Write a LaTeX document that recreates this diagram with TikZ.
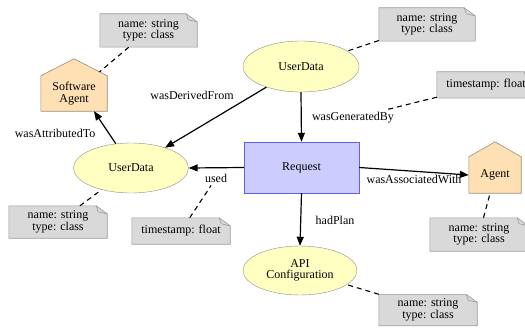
\documentclass[tikz,border=0pt]{standalone}
\usepackage{fontspec}
\setmainfont{Liberation Serif}
\usetikzlibrary{shapes.geometric,arrows.meta}
\pgfdeclarelayer{background}
\pgfsetlayers{background,main}
\definecolor{entfill}{HTML}{FFFFC2}
\definecolor{entline}{HTML}{8C8C8C}
\definecolor{actfill}{HTML}{CCCCFF}
\definecolor{actline}{HTML}{6060F0}
\definecolor{agtfill}{HTML}{FEE0B4}
\definecolor{agtline}{HTML}{9C8C78}
\definecolor{notefill}{HTML}{D9D9D9}
\definecolor{noteline}{HTML}{9A9A9A}
\tikzset{
  entity/.style={ellipse, draw=entline, fill=entfill, inner sep=0pt, align=center},
  activity/.style={rectangle, draw=actline, fill=actfill, inner sep=0pt},
  agentbody/.style={rectangle, inner sep=0pt, align=center},
  attrnote/.style={rectangle, inner sep=0pt, minimum width=98pt, align=center},
  lbl/.style={inner sep=3pt},
  rel/.style={line width=1.2pt, -{Triangle[length=9pt,width=7pt]}},
  attr/.style={line width=1.1pt, dash pattern=on 5pt off 4pt},
}
% house outline behind an agent node, roof height as second argument
\newcommand{\agenthouse}[2]{%
  \begin{pgfonlayer}{background}
    \draw[agtline, fill=agtfill, line width=0.6pt] (#1.south west) -- (#1.south east) -- (#1.north east)
      -- ([yshift=#2]#1.north) -- (#1.north west) -- cycle;
  \end{pgfonlayer}}
% note outline with a folded corner
\newcommand{\notefold}[1]{%
  \begin{pgfonlayer}{background}
    \draw[noteline, fill=notefill, line width=0.6pt] (#1.south west) -- (#1.south east) -- ([yshift=-8pt]#1.north east)
      -- ([xshift=-11pt]#1.north east) -- (#1.north west) -- cycle;
    \draw[noteline, line width=0.6pt] ([xshift=-11pt]#1.north east) -- ([xshift=-9pt,yshift=-6pt]#1.north east) -- ([yshift=-8pt]#1.north east);
  \end{pgfonlayer}}
\begin{document}
\begin{tikzpicture}[x=1pt,y=-1pt,font=\fontsize{12}{11.5}\selectfont]
\useasboundingbox (0,0) rectangle (525,329);
\begin{scope}
\clip (0,0) rectangle (525,329);
% entities, activity, agents
\node[entity, minimum width=116pt, minimum height=51pt] (ud1) at (301,66.5) {UserData};
\node[entity, minimum width=115pt, minimum height=50pt] (ud2) at (131,168) {UserData};
\node[activity, minimum width=115pt, minimum height=51pt] (req) at (301.5,167.5) {Request};
\node[entity, minimum width=114pt, minimum height=49pt] (api) at (300,270.5) {API\\Configuration};
\node[agentbody, minimum width=66pt, minimum height=35pt] (sagent) at (74,93.5) {Software\\Agent};
\agenthouse{sagent}{17pt}
\node[agentbody, minimum width=52pt, minimum height=36pt] (agent) at (495,175) {\raisebox{-2pt}{Agent}};
\agenthouse{agent}{15pt}
% attribute notes
\node[attrnote, minimum width=97pt, minimum height=33pt] (n1) at (148.5,30.5) {name: string\\type: class};
\notefold{n1}
\node[attrnote, minimum width=96pt, minimum height=33pt] (n2) at (427,24.5) {name: string\\type: class};
\notefold{n2}
\node[attrnote, minimum height=26pt] (n3) at (486,85) {timestamp: float};
\notefold{n3}
\node[attrnote, minimum height=32pt] (n4) at (58,222) {name: string\\type: class};
\notefold{n4}
\node[attrnote, minimum height=26pt] (n5) at (181,231) {timestamp: float};
\notefold{n5}
\node[attrnote, minimum height=33pt] (n6) at (479,234.5) {name: string\\type: class};
\notefold{n6}
\node[attrnote, minimum height=31pt] (n7) at (428,310) {name: string\\type: class};
\notefold{n7}
% relations
\draw[rel] (ud1) -- (ud2);
\draw[rel] (ud2.122) -- ([xshift=20pt]sagent.south);
\draw[rel] (ud1.south) -- (req.north);
\draw[rel] (req.west) -- (ud2.east);
\draw[rel] (req.east) -- (agent.west);
\draw[rel] (req.south) -- (api.north);
% relation labels
\node[lbl] (lder) at (192,95) {wasDerivedFrom};
\node[lbl] (latt) at (55,133) {wasAttributedTo};
\node[lbl] (lgen) at (353,118) {wasGeneratedBy};
\node[lbl] (lused) at (216,178) {used};
\node[lbl] (lass) at (414,179) {wasAssociatedWith};
\node[lbl] (lplan) at (335,220) {hadPlan};
% attribute links
\draw[attr, shorten >=6pt] (n1) -- (sagent);
\draw[attr] (n2) -- (ud1);
\draw[attr] (n3) -- (lgen);
\draw[attr] (n4) -- (ud2);
\draw[attr] (n5) -- (lused);
\draw[attr] (n6) -- (agent);
\draw[attr] (n7.north west) -- (api);
\end{scope}
\end{tikzpicture}
\end{document}
